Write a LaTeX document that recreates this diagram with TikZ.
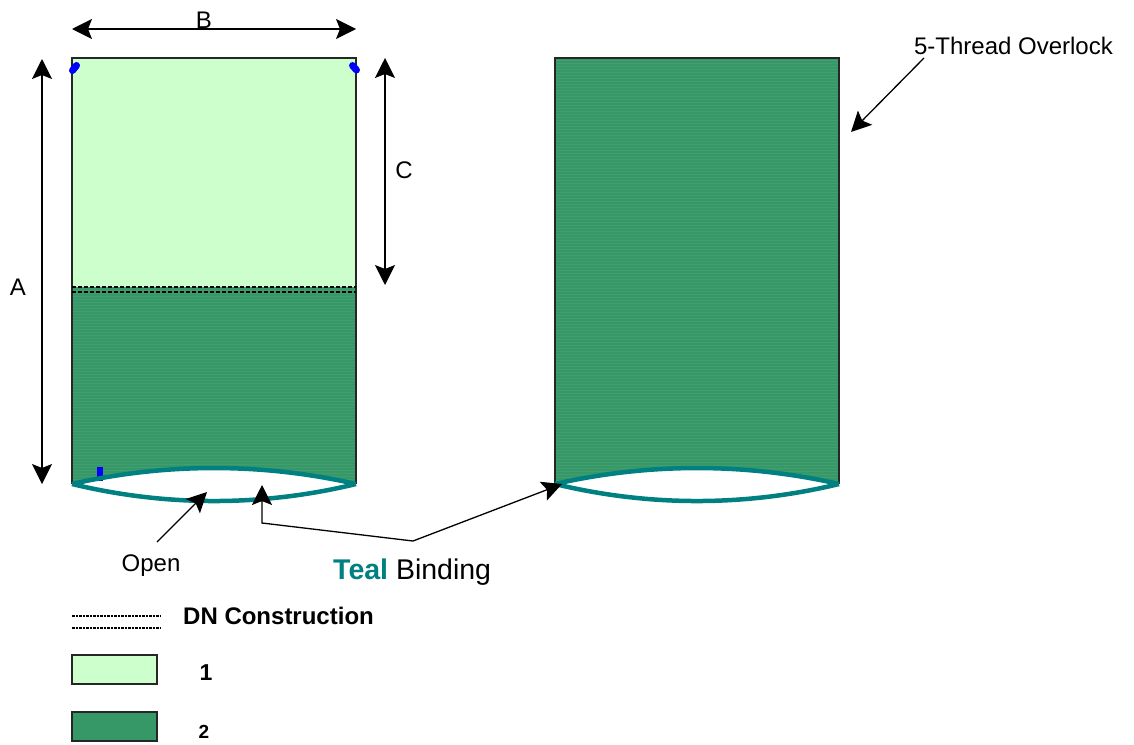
\documentclass[tikz,border=0pt]{standalone}
\usepackage{fontspec}
\setmainfont{Liberation Sans}
\usetikzlibrary{arrows.meta,positioning}
\definecolor{lightpanel}{HTML}{CCFFCC}
\definecolor{darkpanel}{HTML}{369866}
\definecolor{stripepanel}{HTML}{429E70}
\definecolor{tealbind}{HTML}{008080}
\definecolor{tackblue}{HTML}{0000FF}

\begin{document}
\begin{tikzpicture} [x=1pt, y=-1pt,
                     panel/.style={line width=1.2pt, inner sep=0pt, outer sep=0pt, anchor=north west},
                     lightp/.style={panel, fill=lightpanel, minimum width=284pt},
                     darkp/.style={panel, fill=darkpanel, minimum width=284pt},
                     swatch/.style={panel, draw=black!85, minimum width=85pt, minimum height=29pt},
                     outline/.style={draw=black!85, line width=1.3pt},
                     stripe/.style={stripepanel, line width=1pt},
                     label/.style={font=\fontsize{24}{24}\selectfont, inner sep=0pt},
                     boldlabel/.style={label, font=\fontsize{24}{24}\selectfont\bfseries},
                     pile/.style={line width=1.3pt, -{Stealth[length=20pt,width=20pt,inset=4pt]}},
                     dimen/.style={line width=1.3pt, {Stealth[length=20pt,width=20pt,inset=4pt]}-{Stealth[length=20pt,width=20pt,inset=4pt]}},
                     stitch/.style={line width=1.3pt, dash pattern=on 4pt off 2pt},
                     binding/.style={draw=tealbind, line width=4.5pt},
                     tack/.style={draw=tackblue, line width=7pt, line cap=round}]
    \useasboundingbox (0,0) rectangle (1134,744);

    % panels
    \node[lightp, minimum height=229pt] (frontlight) at (72,58) {};
    \node[darkp, minimum height=197pt] (frontdark) at (72,287) {};
    \node[darkp, minimum height=426pt] (back) at (555,58) {};
    \foreach \y in {290,293,...,484}
        \draw[stripe] (72,\y) -- (356,\y);
    \foreach \y in {60,63,...,484}
        \draw[stripe] (555,\y) -- (839,\y);
    \draw[outline] (frontlight.south west) -- (frontlight.north west) -- (frontlight.north east) -- (frontlight.south east);
    \draw[outline] (frontdark.north west) -- (frontdark.south west);
    \draw[outline] (frontdark.north east) -- (frontdark.south east);
    \draw[outline] (back.south west) -- (back.north west) -- (back.north east) -- (back.south east);

    % folded stitch line
    \draw[stitch] (frontlight.south west) -- (frontlight.south east);
    \draw[stitch] (72,292) -- (356,292);

    % leg openings
    \fill[white] (frontdark.south west) .. controls (166,462.7) and (262,462.7) .. (frontdark.south east)
        .. controls (262,506.7) and (166,506.7) .. cycle;
    \fill[white] (back.south west) .. controls (649,462.7) and (745,462.7) .. (back.south east)
        .. controls (745,506.7) and (649,506.7) .. cycle;
    \fill[tackblue] (97,467) rectangle (103,481);
    \draw[binding] (frontdark.south west) .. controls (166,462.7) and (262,462.7) .. (frontdark.south east);
    \draw[binding] (frontdark.south west) .. controls (166,506.7) and (262,506.7) .. (frontdark.south east);
    \draw[binding] (back.south west) .. controls (649,462.7) and (745,462.7) .. (back.south east);
    \draw[binding] (back.south west) .. controls (649,506.7) and (745,506.7) .. (back.south east);

    \draw[tack] (72.5,70.5) -- (76.5,65.5);
    \draw[tack] (352.5,65.5) -- (356.5,70);

    % dimensions
    \coordinate (bleft) at (72,29);
    \coordinate (bright) at (356,29);
    \coordinate (atop) at (42,59);
    \coordinate (abot) at (42,484);
    \coordinate (ctop) at (385,58);
    \coordinate (cbot) at (385,285);
    \draw[dimen] (bleft) -- (bright);
    \draw[dimen] (atop) -- (abot);
    \draw[dimen] (ctop) -- (cbot);
    \node[label] (blabel) at (204,20) {B};
    \node[label] (clabel) at (404,170) {C};
    \node[label] (alabel) at (18,287) {A};

    % callouts
    \node[label] (overlock) at (1013.5,46) {5-Thread Overlock};
    \coordinate (overlockfrom) at (924,58);
    \coordinate (overlockto) at (851,132);
    \draw[pile] (overlockfrom) -- (overlockto);

    \node[label] (open) at (151,566) {Open};
    \coordinate (openfrom) at (157,542);
    \coordinate (opento) at (207,492);
    \draw[pile] (openfrom) -- (opento);

    \node[label, font=\fontsize{28.5}{28.5}\selectfont, anchor=west] (teal) at (333,572) {\textcolor{tealbind}{\textbf{Teal}} Binding};
    \coordinate (tealjoin) at (413,541);
    \coordinate (tealcorner) at (262,523);
    \coordinate (tealfront) at (262,485);
    \coordinate (tealback) at (562,484);
    \draw[pile] (tealjoin) -- (tealcorner) -- (tealfront);
    \draw[pile] (tealjoin) -- (tealback);

    % legend
    \draw[line width=1.2pt, dash pattern=on 2.5pt off 1pt] (72,616) -- (160,616);
    \draw[line width=1.2pt, dash pattern=on 2.5pt off 1pt] (72,628) -- (160,628);
    \node[boldlabel, anchor=west] (dnlabel) at (183,616) {DN Construction};
    \node[swatch, fill=lightpanel] (swatchone) at (72,655) {};
    \node[boldlabel, font=\fontsize{23}{23}\selectfont\bfseries] (onelabel) at (206,673) {1};
    \node[swatch, fill=darkpanel] (swatchtwo) at (72,712) {};
    \node[boldlabel, font=\fontsize{19}{19}\selectfont\bfseries] (twolabel) at (204,732) {2};
\end{tikzpicture}
\end{document}
